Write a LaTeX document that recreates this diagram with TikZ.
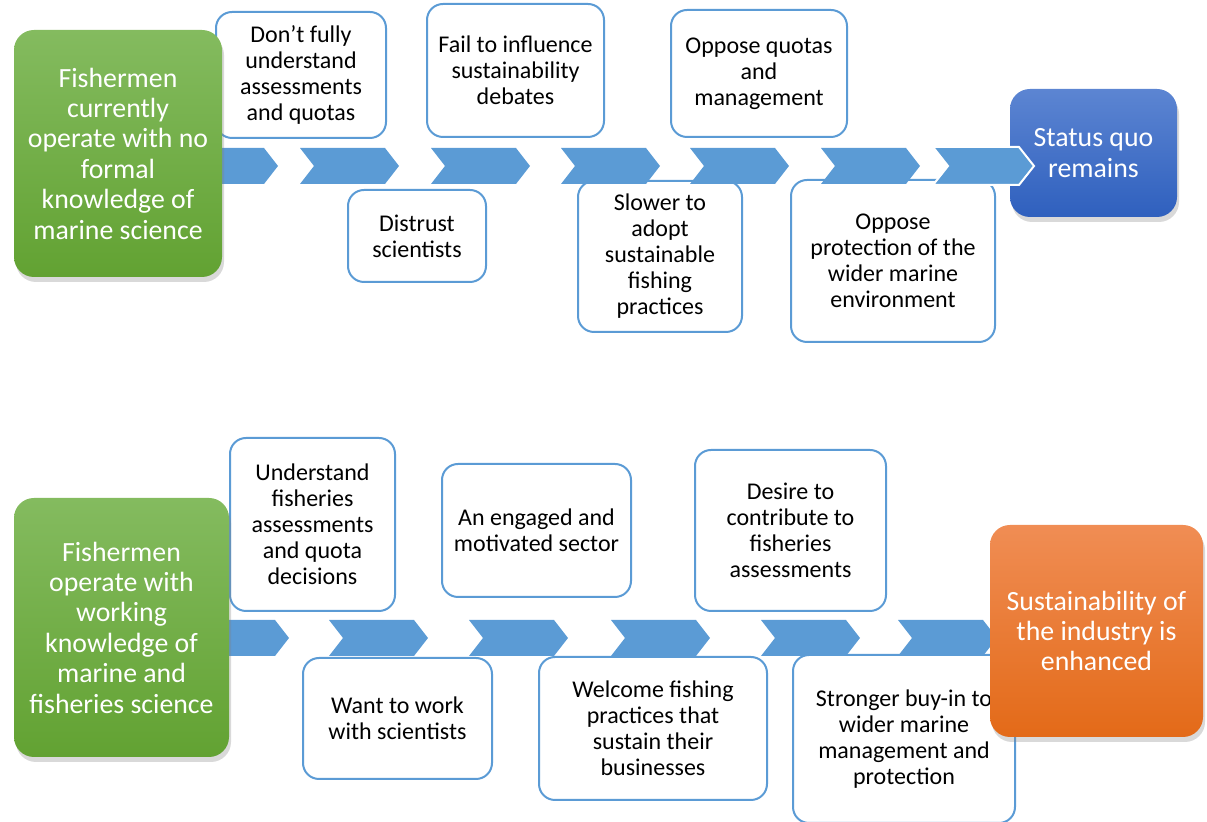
\documentclass[tikz,border=0pt]{standalone}
\usepackage{fontspec}
\setmainfont{Carlito}
\usepackage{tikz}
\usepackage{xcolor}
\usetikzlibrary{shadows}

\definecolor{chevblue}{HTML}{5B9BD5}
\definecolor{greentop}{HTML}{84BB5F}
\definecolor{greenbot}{HTML}{62A232}
\definecolor{bluetop}{HTML}{5C85D2}
\definecolor{bluebot}{HTML}{2F60BE}
\definecolor{orangetop}{HTML}{F08D54}
\definecolor{orangebot}{HTML}{E36A18}

\tikzset{
  stepbox/.style={draw=chevblue, line width=1pt, fill=white, rounded corners=8pt,
    inner sep=0pt, align=center, text=black, font=\fontsize{12}{13}\selectfont},
  endbox/.style={rounded corners=10pt, inner sep=0pt, align=center, text=white,
    font=\fontsize{13.9}{15.2}\selectfont,
    drop shadow={shadow xshift=1pt, shadow yshift=-2.5pt, opacity=0.3}},
  chev/.style={fill=chevblue},
}

\begin{document}
\begin{tikzpicture}[x=0.5pt, y=-0.5pt]
    \useasboundingbox (0,0) rectangle (1207,822);

    % top row
    \node[stepbox, minimum width=85pt, minimum height=63pt] (t1) at (301, 75) {Don’t fully\\understand\\assessments\\and quotas};
    \node[stepbox, minimum width=88.5pt, minimum height=66.5pt] (t2) at (515.5, 70.5) {Fail to influence\\sustainability\\debates};
    \node[stepbox, minimum width=88pt, minimum height=63.5pt] (t3) at (759, 73.5) {Oppose quotas\\and\\management};
    \node[stepbox, minimum width=69pt, minimum height=46pt] (b1) at (417, 236) {Distrust\\scientists};
    \node[stepbox, minimum width=82pt, minimum height=75.5pt] (b2) at (660, 256.5) {Slower to\\adopt\\sustainable\\fishing\\practices};
    \node[stepbox, minimum width=102pt, minimum height=81pt] (b3) at (893, 261) {Oppose\\protection of the\\wider marine\\environment};

    \fill[chev] (215,148) -- (264,148) -- (278,166) -- (264,184) -- (215,184) -- cycle;
    \fill[chev] (300,148) -- ++(85,0) -- ++(14,18) -- ++(-14,18) -- ++(-85,0) -- ++(14,-18) -- cycle;
    \fill[chev] (431,148) -- ++(85,0) -- ++(14,18) -- ++(-14,18) -- ++(-85,0) -- ++(14,-18) -- cycle;
    \fill[chev] (561,148) -- ++(85,0) -- ++(14,18) -- ++(-14,18) -- ++(-85,0) -- ++(14,-18) -- cycle;
    \fill[chev] (690,148) -- ++(85,0) -- ++(14,18) -- ++(-14,18) -- ++(-85,0) -- ++(14,-18) -- cycle;
    \fill[chev] (821,148) -- ++(85,0) -- ++(14,18) -- ++(-14,18) -- ++(-85,0) -- ++(14,-18) -- cycle;

    \node[endbox, top color=bluetop, bottom color=bluebot, minimum width=83.5pt, minimum height=64pt] (end1) at (1093.5, 153) {Status quo\\remains};
    \filldraw[chev, draw=white, line width=1pt] (933,147) -- ++(86,0) -- ++(15,19) -- ++(-15,19) -- ++(-86,0) -- ++(15,-19) -- cycle;

    \node[endbox, top color=greentop, bottom color=greenbot, minimum width=104pt, minimum height=123.5pt] (start1) at (118, 153.5) {Fishermen\\currently\\operate with no\\formal\\knowledge of\\marine science};

    % bottom row
    \node[stepbox, minimum width=82.5pt, minimum height=86.5pt] (u1) at (312.5, 524.5) {Understand\\fisheries\\assessments\\and quota\\decisions};
    \node[stepbox, minimum width=94.5pt, minimum height=66.5pt] (u2) at (536.5, 530.5) {An engaged and\\motivated sector};
    \node[stepbox, minimum width=95.5pt, minimum height=80.5pt] (u3) at (790.5, 530.5) {Desire to\\contribute to\\fisheries\\assessments};
    \node[stepbox, minimum width=94.5pt, minimum height=60.5pt] (l1) at (397.5, 718.5) {Want to work\\with scientists};
    \node[stepbox, minimum width=114pt, minimum height=71.5pt] (l2) at (653, 728.5) {Welcome fishing\\practices that\\sustain their\\businesses};
    \node[stepbox, minimum width=111pt, minimum height=84pt] (l3) at (904, 739) {Stronger buy-in to\\wider marine\\management and\\protection};

    \fill[chev] (222,620) -- (275,620) -- (289,638) -- (275,656) -- (222,656) -- cycle;
    \fill[chev] (329,620) -- ++(85,0) -- ++(14,18) -- ++(-14,18) -- ++(-85,0) -- ++(14,-18) -- cycle;
    \fill[chev] (469,620) -- ++(85,0) -- ++(14,18) -- ++(-14,18) -- ++(-85,0) -- ++(14,-18) -- cycle;
    \fill[chev] (611,620) -- ++(85,0) -- ++(14,18) -- ++(-14,18) -- ++(-85,0) -- ++(14,-18) -- cycle;
    \fill[chev] (761,620) -- ++(85,0) -- ++(14,18) -- ++(-14,18) -- ++(-85,0) -- ++(14,-18) -- cycle;
    \fill[chev] (898,620) -- ++(85,0) -- ++(14,18) -- ++(-14,18) -- ++(-85,0) -- ++(14,-18) -- cycle;

    \node[endbox, top color=greentop, bottom color=greenbot, minimum width=107.5pt, minimum height=129.5pt] (start2) at (121.5, 627.5) {Fishermen\\operate with\\working\\knowledge of\\marine and\\fisheries science};
    \node[endbox, top color=orangetop, bottom color=orangebot, minimum width=106.5pt, minimum height=106pt] (end2) at (1096.5, 631) {Sustainability of\\the industry is\\enhanced};
\end{tikzpicture}
\end{document}
